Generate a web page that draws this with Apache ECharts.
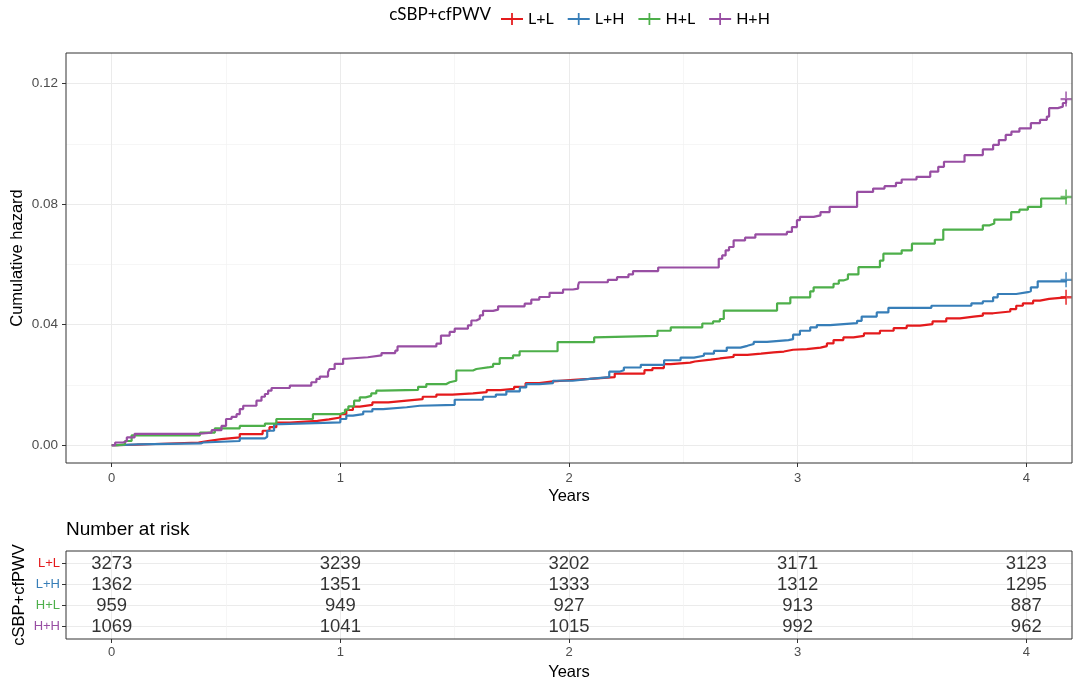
<!DOCTYPE html>
<html><head><meta charset="utf-8">
<script src="https://cdn.jsdelivr.net/npm/echarts@6/dist/echarts.min.js"></script>
<style>html,body{margin:0;padding:0;background:#fff}#c{width:1080px;height:684px}</style>
</head><body><div id="c"></div>
<script>
// ---------- data ----------
const groups = ['L+L', 'L+H', 'H+L', 'H+H'];
const colors = ['#E41A1C', '#377EB8', '#4DAF4A', '#984EA3'];
const xTicks = [0, 1, 2, 3, 4];
const xMinorTicks = [0.5, 1.5, 2.5, 3.5];
const yTicks = [0, 0.04, 0.08, 0.12];
const yMinorTicks = [0.02, 0.06, 0.10];

const llTime = [0, 0.02, 0.11, 0.19, 0.38, 0.42, 0.48, 0.56, 0.66, 0.69, 0.72, 0.78, 0.9, 0.95, 1.0, 1.026, 1.055, 1.085, 1.14, 1.21, 1.29, 1.36, 1.42, 1.49, 1.58, 1.64, 1.70, 1.76, 1.81, 1.87, 1.93, 2.02, 2.09, 2.2, 2.33, 2.365, 2.415, 2.445, 2.53, 2.55, 2.62, 2.66, 2.72, 2.78, 2.84, 2.895, 2.94, 2.98, 3.04, 3.1, 3.128, 3.157, 3.2, 3.244, 3.29, 3.36, 3.42, 3.477, 3.535, 3.59, 3.65, 3.71, 3.77, 3.81, 3.855, 3.93, 3.956, 3.985, 4.03, 4.06, 4.1, 4.174];
const llHaz  = [0, 0.0002, 0.0004, 0.0009, 0.0014, 0.002, 0.0026, 0.0037, 0.0048, 0.006, 0.0075, 0.0081, 0.0086, 0.0092, 0.0103, 0.0117, 0.0128, 0.0134, 0.0142, 0.0148, 0.0153, 0.0161, 0.0168, 0.0172, 0.0176, 0.0183, 0.0187, 0.0194, 0.0206, 0.0212, 0.0217, 0.022, 0.0226, 0.0238, 0.0249, 0.0256, 0.0269, 0.0274, 0.0278, 0.0284, 0.0288, 0.0293, 0.03, 0.0304, 0.0308, 0.0311, 0.0317, 0.0319, 0.0324, 0.0329, 0.0338, 0.0349, 0.0358, 0.0363, 0.0371, 0.038, 0.0389, 0.0397, 0.0402, 0.0411, 0.0421, 0.0427, 0.043, 0.0438, 0.0444, 0.0452, 0.0463, 0.0471, 0.048, 0.0486, 0.0491, 0.0491];

const lhTime = [0, 0.026, 0.11, 0.39, 0.40, 0.56, 0.67, 0.68, 0.71, 0.74, 1.0, 1.026, 1.055, 1.1, 1.14, 1.187, 1.29, 1.347, 1.5, 1.624, 1.68, 1.726, 1.785, 1.813, 1.87, 1.93, 2.017, 2.09, 2.176, 2.22, 2.24, 2.314, 2.416, 2.488, 2.547, 2.59, 2.634, 2.69, 2.75, 2.78, 2.808, 2.866, 2.96, 2.98, 3.01, 3.055, 3.084, 3.142, 3.26, 3.28, 3.346, 3.397, 3.585, 3.76, 3.81, 3.855, 3.875, 3.956, 4.007, 4.02, 4.05, 4.174];
const lhHaz  = [0, 0.0003, 0.0006, 0.0009, 0.0014, 0.0023, 0.0028, 0.0048, 0.007, 0.0076, 0.0087, 0.0098, 0.0103, 0.0112, 0.012, 0.0126, 0.0131, 0.0134, 0.0151, 0.0161, 0.0168, 0.0179, 0.0192, 0.0203, 0.0206, 0.0214, 0.022, 0.0226, 0.0244, 0.0249, 0.0258, 0.0267, 0.0282, 0.0291, 0.0297, 0.0304, 0.0313, 0.0324, 0.033, 0.0336, 0.0343, 0.0349, 0.0352, 0.0367, 0.038, 0.0391, 0.0399, 0.0405, 0.0413, 0.0427, 0.0441, 0.0456, 0.0463, 0.0471, 0.0478, 0.0491, 0.0502, 0.0508, 0.0511, 0.0524, 0.0544, 0.0549];

const hlTime = [0, 0.022, 0.058, 0.087, 0.386, 0.451, 0.56, 0.67, 0.72, 0.88, 0.997, 1.02, 1.035, 1.06, 1.085, 1.11, 1.135, 1.157, 1.18, 1.34, 1.376, 1.464, 1.478, 1.507, 1.58, 1.595, 1.653, 1.668, 1.697, 1.755, 1.784, 1.95, 2.11, 2.117, 2.387, 2.445, 2.583, 2.63, 2.66, 2.677, 2.91, 2.968, 3.055, 3.07, 3.157, 3.18, 3.2, 3.22, 3.266, 3.36, 3.375, 3.455, 3.5, 3.6, 3.637, 3.81, 3.84, 3.86, 3.934, 3.97, 4.007, 4.065, 4.174];
const hlHaz  = [0, 0.0003, 0.0014, 0.0033, 0.0042, 0.0056, 0.0064, 0.0072, 0.0087, 0.0103, 0.0109, 0.0118, 0.0129, 0.0148, 0.0159, 0.0164, 0.0172, 0.0181, 0.0184, 0.0194, 0.0203, 0.0209, 0.0214, 0.0248, 0.0253, 0.0259, 0.0261, 0.027, 0.0289, 0.0298, 0.0312, 0.0342, 0.0358, 0.0363, 0.038, 0.0391, 0.0404, 0.0411, 0.0419, 0.0447, 0.0471, 0.0491, 0.0511, 0.0524, 0.0536, 0.0547, 0.0552, 0.0567, 0.0591, 0.0613, 0.0636, 0.0647, 0.0669, 0.0682, 0.0716, 0.073, 0.0736, 0.0749, 0.0774, 0.0782, 0.0791, 0.0819, 0.0824];

const hhTime = [0, 0.015, 0.051, 0.066, 0.10, 0.386, 0.437, 0.48, 0.50, 0.524, 0.546, 0.56, 0.575, 0.633, 0.655, 0.67, 0.684, 0.699, 0.779, 0.873, 0.895, 0.91, 0.946, 0.953, 0.975, 1.012, 1.026, 1.12, 1.18, 1.24, 1.25, 1.42, 1.44, 1.478, 1.50, 1.558, 1.573, 1.595, 1.61, 1.624, 1.668, 1.69, 1.806, 1.835, 1.87, 1.915, 1.974, 2.017, 2.04, 2.044, 2.17, 2.21, 2.26, 2.28, 2.39, 2.655, 2.67, 2.685, 2.70, 2.72, 2.77, 2.815, 2.953, 2.975, 2.997, 3.01, 3.07, 3.10, 3.14, 3.26, 3.33, 3.38, 3.43, 3.455, 3.52, 3.58, 3.615, 3.64, 3.73, 3.81, 3.855, 3.88, 3.91, 3.935, 3.97, 4.02, 4.06, 4.09, 4.10, 4.138, 4.16, 4.174];
const hhHaz  = [0, 0.0009, 0.0014, 0.0026, 0.0038, 0.0042, 0.005, 0.0064, 0.0087, 0.0094, 0.0103, 0.012, 0.0131, 0.0148, 0.0161, 0.017, 0.0181, 0.019, 0.0198, 0.0209, 0.022, 0.0228, 0.0242, 0.0253, 0.027, 0.0287, 0.0292, 0.0298, 0.0306, 0.0314, 0.0328, 0.0337, 0.0364, 0.0376, 0.0387, 0.0398, 0.0414, 0.042, 0.0431, 0.0446, 0.045, 0.0461, 0.047, 0.0483, 0.0492, 0.0506, 0.0517, 0.052, 0.0531, 0.0541, 0.0549, 0.0558, 0.0567, 0.0578, 0.059, 0.0619, 0.063, 0.0647, 0.0658, 0.068, 0.0689, 0.07, 0.0708, 0.0724, 0.0747, 0.0758, 0.0763, 0.0774, 0.0791, 0.0841, 0.0852, 0.086, 0.0871, 0.0882, 0.0891, 0.0908, 0.0924, 0.0941, 0.0963, 0.0982, 0.0997, 0.1013, 0.103, 0.1041, 0.1052, 0.1069, 0.108, 0.1091, 0.1119, 0.1124, 0.1136, 0.1149];

const riskTimes = [0, 1, 2, 3, 4];
const riskLL = [3273, 3239, 3202, 3171, 3123];
const riskLH = [1362, 1351, 1333, 1312, 1295];
const riskHL = [959, 949, 927, 913, 887];
const riskHH = [1069, 1041, 1015, 992, 962];

// ---------- build ----------
const curves = [[llTime, llHaz], [lhTime, lhHaz], [hlTime, hlHaz], [hhTime, hhHaz]];
const risks = [riskLL, riskLH, riskHL, riskHH];
const FONT = '"Liberation Sans", Arial, sans-serif';
const LFONT = 'Lato, "Open Sans", sans-serif';
const crossPath = 'path://M0,42H100V58H0Z M42,0H58V100H42Z';
const legendPath = 'path://M0,42H100V58H0Z M46,0H54V100H46Z';

const series = [];
curves.forEach((c, i) => {
  series.push({
    name: groups[i], type: 'line', xAxisIndex: 0, yAxisIndex: 0,
    step: 'end', showSymbol: false, symbol: 'none',
    data: c[0].map((t, k) => [t, c[1][k]]),
    lineStyle: { color: colors[i], width: 2.2 }, itemStyle: { color: colors[i] },
    z: 3 + i, silent: true
  });
});
curves.forEach((c, i) => {
  const n = c[0].length - 1;
  series.push({
    name: groups[i] + ' censor', type: 'scatter', xAxisIndex: 0, yAxisIndex: 0,
    symbol: crossPath, symbolSize: [11, 15],
    data: [[c[0][n], c[1][n]]],
    itemStyle: { color: colors[i] }, z: 8, silent: true
  });
});
risks.forEach((r, i) => {
  series.push({
    name: groups[i] + ' risk', type: 'scatter', xAxisIndex: 2, yAxisIndex: 2,
    symbolSize: 0,
    data: riskTimes.map((t, k) => [t, i + 1, r[k]]),
    label: { show: true, position: 'inside', formatter: p => String(p.data[2]),
             color: '#000', fontSize: 18.5, fontFamily: FONT },
    silent: true
  });
});

const rich = {};
groups.forEach((g, i) => { rich['g' + i] = { color: colors[i], fontSize: 13, fontFamily: FONT }; });

function majorX(gridIndex, nameGap, margin) {
  return {
    gridIndex, type: 'value', min: -0.2, max: 4.2, position: 'bottom',
    axisLine: { show: false, onZero: false },
    axisTick: { show: true, length: 4, lineStyle: { color: '#333', width: 1 }, customValues: xTicks },
    axisLabel: { show: true, customValues: xTicks, color: '#4D4D4D', fontSize: 13, fontFamily: FONT, margin },
    splitLine: { show: true, lineStyle: { color: '#EBEBEB', width: 1 } },
    name: 'Years', nameLocation: 'middle', nameGap, nameMoveOverlap: false,
    nameTextStyle: { fontSize: 16.5, color: '#000', fontFamily: FONT }
  };
}
function minorX(gridIndex) {
  return {
    gridIndex, type: 'value', min: -0.2, max: 4.2, position: 'bottom',
    axisLine: { show: false, onZero: false },
    axisTick: { show: false, customValues: xMinorTicks },
    axisLabel: { show: false, customValues: xMinorTicks },
    splitLine: { show: true, lineStyle: { color: '#F2F2F2', width: 0.7 } }
  };
}

const option = {
  animation: false,
  backgroundColor: '#fff',
  grid: [
    { left: 66, right: 8, top: 53, height: 410, show: true, borderColor: '#333', borderWidth: 1, backgroundColor: 'transparent', z: 10, containLabel: false, outerBoundsMode: 'none' },
    { left: 66, right: 8, top: 551, height: 88, show: true, borderColor: '#333', borderWidth: 1, backgroundColor: 'transparent', z: 10, containLabel: false, outerBoundsMode: 'none' }
  ],
  legend: {
    left: 496, top: 6, itemWidth: 22, itemHeight: 12, itemGap: 14,
    icon: legendPath, symbolKeepAspect: false,
    data: groups,
    textStyle: { fontSize: 16, color: '#000', fontFamily: LFONT }
  },
  graphic: [
    { type: 'text', right: 1080 - 491, top: 6,
      style: { text: 'cSBP+cfPWV', fontSize: 17, fill: '#000', fontFamily: LFONT } },
    { type: 'text', left: 66, top: 520,
      style: { text: 'Number at risk', fontSize: 19, fill: '#000', fontFamily: FONT } }
  ],
  xAxis: [majorX(0, 25, 9), minorX(0), majorX(1, 25, 7), minorX(1)],
  yAxis: [
    {
      gridIndex: 0, type: 'value', min: -0.0059, max: 0.1302, position: 'left',
      axisLine: { show: false, onZero: false },
      axisTick: { show: true, length: 4, lineStyle: { color: '#333' }, customValues: yTicks },
      axisLabel: { customValues: yTicks, formatter: v => v.toFixed(2), color: '#4D4D4D', fontSize: 13.5, fontFamily: FONT, margin: 8 },
      splitLine: { show: true, lineStyle: { color: '#EBEBEB', width: 1 } },
      name: 'Cumulative hazard', nameLocation: 'middle', nameGap: 40, nameRotate: 90, nameMoveOverlap: false,
      nameTextStyle: { fontSize: 16.5, color: '#000', fontFamily: FONT }
    },
    {
      gridIndex: 0, type: 'value', min: -0.0059, max: 0.1302, position: 'left',
      axisLine: { show: false, onZero: false },
      axisTick: { show: false, customValues: yMinorTicks },
      axisLabel: { show: false, customValues: yMinorTicks },
      splitLine: { show: true, lineStyle: { color: '#F2F2F2', width: 0.7 } }
    },
    {
      gridIndex: 1, type: 'value', min: 0.4, max: 4.6, inverse: true, position: 'left',
      axisLine: { show: false, onZero: false },
      axisTick: { show: true, length: 4, lineStyle: { color: '#333' }, customValues: [1, 2, 3, 4] },
      axisLabel: { customValues: [1, 2, 3, 4], formatter: v => '{g' + (v - 1) + '|' + groups[v - 1] + '}', rich, margin: 6 },
      splitLine: { show: true, lineStyle: { color: '#EBEBEB', width: 1 } },
      name: 'cSBP+cfPWV', nameLocation: 'middle', nameGap: 38, nameRotate: 90, nameMoveOverlap: false,
      nameTextStyle: { fontSize: 16.5, color: '#000', fontFamily: FONT }
    }
  ],
  series
};

const chart = echarts.init(document.getElementById('c'), null, { renderer: 'canvas' });
chart.setOption(option);
</script></body></html>
